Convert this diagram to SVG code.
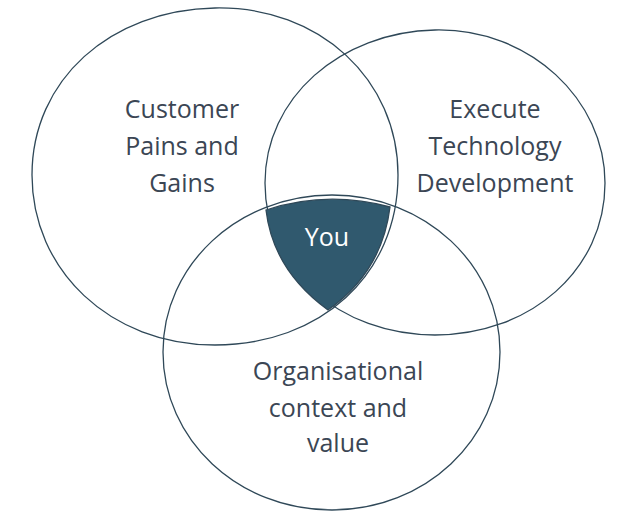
<svg xmlns="http://www.w3.org/2000/svg" width="638" height="522" viewBox="0 0 638 522">
<style>
.c{fill:none;stroke:#2f4858;stroke-width:1.3}
.t{font-family:"Open Sans","DejaVu Sans",sans-serif;font-size:25px;fill:#3b4654;text-anchor:middle}
</style>
<rect width="638" height="522" fill="#fff"/>
<g id="connectors"></g>
<g id="customer">
<path class="c" d="M215,8 C320,6 398,80 398,175 C398,275 320,345 215,345 C110,345 32,270 32,175 C32,80 110,10 215,8 Z"/>
<text class="t" x="182" y="118">Customer</text>
<text class="t" x="182" y="155">Pains and</text>
<text class="t" x="182" y="192">Gains</text>
</g>
<g id="execute">
<path class="c" d="M435,30 C530,28 605,100 605,183 C605,270 530,335 435,335 C340,335 265,270 265,183 C265,98 340,32 435,30 Z"/>
<text class="t" x="495" y="118">Execute</text>
<text class="t" x="495" y="155">Technology</text>
<text class="t" x="495" y="192">Development</text>
</g>
<g id="org">
<path class="c" d="M332,195 C425,195 500,265 500,352 C500,440 425,510 332,510 C238,510 163,440 163,352 C163,265 238,195 332,195 Z"/>
<text class="t" x="338" y="380">Organisational</text>
<text class="t" x="338" y="417">context and</text>
<text class="t" x="338" y="452">value</text>
</g>
<g id="you">
<path d="M266,210 Q327,190 390,207 Q382,272 328,310 Q273,270 266,210 Z" fill="#30596e" stroke="#2f4858" stroke-width="1.3"/>
<text class="t" x="327" y="246" style="fill:#fff">You</text>
</g>
</svg>
